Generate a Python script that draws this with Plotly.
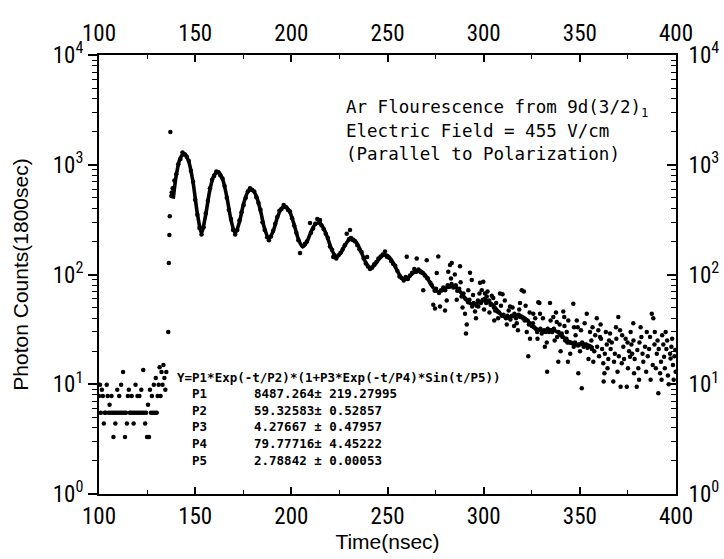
import plotly.graph_objects as go

# ---------------- data ----------------
# pre-signal background counts (t in ns)
bg_time = [100.0, 100.5, 101.0, 101.5, 102.0, 102.5, 103.0, 103.5, 104.0, 104.5,
           105.0, 105.5, 106.0, 106.5, 107.0, 107.5, 108.0, 108.5, 109.0, 109.5,
           110.0, 110.5, 111.0, 111.5, 112.0, 112.5, 113.0, 113.5, 114.0, 114.5,
           115.0, 115.5, 116.0, 116.5, 117.0, 117.5, 118.0, 118.5, 119.0, 119.5,
           120.0, 120.5, 121.0, 121.5, 122.0, 122.5, 123.0, 123.5, 124.0, 124.5,
           125.0, 125.5, 126.0, 126.5, 127.0, 127.5, 128.0, 128.5, 129.0, 129.5,
           130.0, 130.5, 131.0, 131.5, 132.0, 132.5, 133.0, 133.5, 134.0, 134.5,
           135.0]
bg_counts = [7.8, 9.9, 5.5, 8.9, 7.8, 4.4, 5.5, 5.5, 9.9, 7.8,
             5.5, 6.5, 5.5, 7.8, 5.5, 3.3, 5.5, 4.4, 5.5, 8.9,
             5.5, 7.8, 5.5, 9.9, 5.5, 12.9, 5.5, 3.3, 5.5, 4.4,
             7.8, 8.9, 5.5, 5.5, 7.8, 5.5, 4.4, 5.5, 9.9, 5.5,
             7.8, 5.5, 7.8, 5.5, 8.9, 5.5, 13.5, 5.5, 4.4, 5.5,
             3.3, 6.5, 3.3, 8.9, 5.5, 7.8, 5.5, 9.9, 5.5, 11.4,
             5.5, 7.8, 9.9, 14.3, 7.8, 12.9, 9.9, 15.0, 11.4, 8.9,
             12.9]

# signal counts after the excitation pulse
sig_time = [136.0, 136.3, 136.6, 136.8, 137.1, 137.6, 137.8, 138.3, 139.2, 140.16,
            141.2, 142.35, 143.4, 144.54, 145.6, 146.73, 147.8, 148.92, 150.0, 151.11,
            152.2, 153.3, 154.4, 155.49, 156.6, 157.68, 158.8, 159.87, 161.0, 162.06,
            163.1, 164.25, 165.3, 166.44, 167.5, 168.63, 169.7, 170.82, 171.9, 173.01,
            174.1, 175.2, 176.3, 177.39, 178.5, 179.58, 180.7, 181.77, 182.9, 183.96,
            185.0, 186.15, 187.4, 188.34, 189.4, 190.53, 191.6, 192.72, 193.8, 194.91,
            196.0, 197.1, 198.3, 199.29, 200.4, 201.48, 202.6, 203.67, 204.5, 205.86,
            207.0, 208.05, 209.7, 210.24, 211.3, 212.43, 213.5, 214.62, 214.9, 215.7,
            216.81, 217.9, 219.0, 220.1, 221.19, 221.8, 222.3, 223.38, 224.5, 225.57,
            226.7, 227.76, 228.8, 229.95, 230.5, 231.0, 232.14, 233.2, 234.33, 235.4,
            236.52, 237.6, 238.71, 239.4, 239.8, 240.9, 242.0, 243.09, 244.2, 245.28,
            246.4, 247.47, 248.7, 249.66, 250.8, 251.85, 252.9, 254.04, 255.1, 256.23,
            257.3, 258.42, 259.5, 260.0, 260.61, 261.7, 262.8, 263.9, 264.99, 265.2,
            266.1, 267.18, 268.3, 268.6, 269.37, 270.4, 270.5, 271.0, 272.3, 273.0,
            273.8, 274.5, 274.7, 275.2, 275.6, 276.4, 276.8, 277.3, 277.8, 279.0,
            279.9, 280.0, 280.8, 281.3, 281.6, 282.0, 282.5, 283.3, 283.4, 284.2,
            285.5, 286.0, 286.3, 287.3, 287.7, 288.5, 289.5, 290.3, 290.5, 290.8,
            291.2, 291.9, 292.6, 292.9, 293.8, 294.0, 294.8, 295.5, 296.3, 297.0,
            297.2, 298.1, 298.6, 299.0, 299.5, 299.8, 300.6, 300.7, 301.3, 301.6,
            302.8, 303.6, 305.0, 305.3, 305.5, 306.0, 307.1, 308.0, 308.5, 309.4,
            309.8, 310.3, 311.6, 312.4, 313.7, 313.9, 314.6, 316.0, 316.8, 317.2,
            317.8, 318.2, 318.9, 319.0, 319.8, 320.5, 320.9, 321.3, 322.4, 322.8,
            323.2, 323.5, 324.1, 325.0, 325.6, 325.8, 326.2, 327.0, 327.8, 328.4,
            329.0, 329.3, 329.5, 330.2, 331.4, 332.2, 332.8, 333.0, 333.3, 334.0,
            334.5, 335.4, 335.6, 336.2, 336.5, 338.0, 338.2, 338.8, 338.9, 340.2,
            340.6, 341.0, 341.4, 341.9, 342.4, 343.0, 343.2, 343.5, 343.8, 344.5,
            345.3, 346.6, 346.8, 347.0, 347.5, 348.4, 348.9, 349.0, 349.2, 349.8,
            350.1, 351.0, 351.2, 352.0, 353.2, 353.6, 354.0, 355.3, 355.5, 356.0,
            356.3, 357.0, 357.5, 358.8, 359.0, 359.6, 360.0, 360.5, 361.0, 362.2,
            362.4, 362.8, 363.0, 364.0, 364.8, 365.7, 366.0, 366.6, 367.4, 367.8,
            368.2, 369.0, 370.0, 370.3, 370.9, 371.2, 371.8, 372.6, 373.0, 373.8,
            374.4, 375.0, 375.6, 376.1, 376.4, 376.8, 377.8, 377.9, 378.2, 378.5,
            379.6, 379.9, 380.4, 381.0, 381.6, 382.6, 383.0, 383.9, 384.5, 385.3,
            386.0, 386.5, 387.4, 387.9, 388.2, 388.8, 389.5, 390.0, 390.8, 391.0,
            391.7, 392.2, 392.8, 393.4, 393.8, 394.2, 395.0, 395.8, 396.9, 397.2,
            397.6, 398.4, 399.2, 399.6, 399.8,
            302.0, 303.0, 304.2, 306.5, 307.5, 309.0, 311.0, 312.0, 313.0, 315.0,
            315.8, 318.5, 321.8, 323.9, 326.8, 328.0, 330.8, 331.8, 334.8, 336.9,
            337.6, 339.5, 340.0, 342.0, 344.0, 345.0, 347.8, 350.6, 352.5, 354.5,
            356.6, 358.0, 360.8, 361.6, 363.5, 364.4, 365.2, 368.8, 369.6, 372.0,
            374.8, 377.2, 380.8, 382.0, 384.8, 386.8, 389.0, 390.4, 392.5, 394.6,
            395.4, 396.2, 398.0, 398.8, 283.0, 285.0, 288.0, 289.0, 292.0, 294.5,
            296.0, 297.8, 300.2]
sig_counts = [30, 127, 229, 340, 1990, 520, 560, 610, 720, 820,
              1010, 1130, 1290, 1240, 1180, 1080, 880, 700, 480, 350,
              265, 232, 270, 360, 470, 610, 730, 790, 870, 850,
              800, 750, 640, 500, 390, 320, 255, 232, 255, 310,
              370, 430, 500, 575, 610, 590, 570, 505, 450, 390,
              300, 255, 219, 205, 222, 250, 290, 335, 380, 395,
              430, 410, 387, 375, 325, 280, 240, 205, 157, 182,
              190, 200, 295, 240, 262, 290, 320, 300, 314, 280,
              258, 235, 215, 180, 168, 144, 150, 140, 150, 158,
              170, 185, 235, 210, 254, 215, 205, 200, 185, 170,
              160, 140, 126, 144, 118, 112, 115, 124, 130, 140,
              146, 152, 162, 145, 142, 133, 125, 120, 108, 96,
              93, 88, 95, 145, 91, 98, 104, 112, 106, 140,
              111, 105, 103, 72, 98, 135, 93, 92, 84, 80,
              53, 71, 49, 74, 103, 146, 68, 51, 72, 76,
              47, 72, 58, 80, 106, 77, 122, 82, 127, 76,
              80, 59, 71, 74, 119, 63, 67, 44, 60, 29,
              35, 56, 59, 104, 89, 51, 55, 46, 52, 58,
              51, 84, 55, 72, 59, 86, 60, 67, 55, 63,
              58, 53, 61, 50, 38, 47, 46, 45, 67, 42,
              66, 43, 40, 42, 51, 39, 42, 44, 40, 36,
              31, 43, 55, 41, 72, 40, 70, 38, 30, 38,
              18, 35, 26, 34, 36, 44, 33, 32, 30, 56,
              55, 44, 32, 29, 31, 30, 24, 13, 32, 30,
              55, 31, 30, 41, 32, 37, 27, 16, 30, 28,
              29, 27, 46, 41, 25, 26, 30, 24, 16, 24,
              24, 54, 22, 33, 24, 38, 33, 22.5, 12.6, 23,
              20, 9.2, 24, 22, 23, 44, 21.5, 30, 22, 25,
              21, 16, 20, 40, 22, 31, 18, 27, 26, 15.5,
              10.6, 12.6, 19, 23, 17, 29, 21, 24, 10.6, 16,
              19, 26, 41, 18, 31, 9.5, 15.5, 22, 17, 26,
              9.5, 14, 20, 17.8, 30, 23, 36, 25, 12.6, 17,
              9.5, 20.5, 14, 24, 33, 19, 16, 22, 13, 18,
              21, 27, 44, 15, 40, 23, 14, 19, 8.3, 21,
              12.6, 16, 28, 23, 17.8, 14, 21, 12, 19, 17.2,
              22, 15, 18, 20.5, 13,
              70, 45, 64, 55, 40, 52, 58, 35, 47, 50,
              34, 48, 52, 45, 40, 26, 40, 22, 38, 25,
              45, 35, 20, 34, 38, 19, 28, 31, 36, 17,
              33, 28, 35, 21, 30, 14, 25, 33, 13, 28,
              24, 19, 11, 27, 30, 11, 30, 25, 11, 30,
              25, 10, 26, 11, 92, 100, 85, 50, 72, 65,
              40, 67, 48]

# fitted curve Y=P1*Exp(-t/P2)*(1+P3*Exp(-t/P4)*Sin(t/P5))
fit_time = [138.6, 140.16, 142.35, 144.54, 146.73, 148.92, 151.11, 153.30, 155.49, 157.68,
            159.87, 162.06, 164.25, 166.44, 168.63, 170.82, 173.01, 175.20, 177.39, 179.58,
            181.77, 183.96, 186.15, 188.34, 190.53, 192.72, 194.91, 197.10, 199.29, 201.48,
            203.67, 205.86, 208.05, 210.24, 212.43, 214.62, 216.81, 219.00, 221.19, 223.38,
            225.57, 227.76, 229.95, 232.14, 234.33, 236.52, 238.71, 240.90, 243.09, 245.28,
            247.47, 249.66, 251.85, 254.04, 256.23, 258.42, 260.61, 262.80, 264.99, 267.18,
            269.37, 271.56, 273.75, 275.94, 278.13, 280.32, 282.51, 284.70, 286.89, 289.08,
            291.27, 293.46, 295.65, 297.84, 300.03, 302.22, 304.41, 306.60, 308.79, 310.98,
            313.17, 315.36, 317.55, 319.74, 321.93, 324.12, 326.31, 328.50, 330.69, 332.88,
            335.07, 337.26, 339.45, 341.64, 343.83, 346.02, 348.21, 350.40, 352.59, 354.78,
            356.97]
fit_counts = [490, 799.5, 1161.9, 1261.5, 1059.7, 689.7, 362.3, 239.5, 351.4, 595.1,
              807.5, 862.8, 738.3, 513.4, 314.0, 237.2, 300.6, 442.9, 566.7, 596.7,
              519.4, 382.1, 260.2, 211.7, 247.1, 329.7, 401.3, 416.9, 368.5, 284.4,
              209.5, 178.6, 197.8, 245.4, 286.4, 294.1, 263.5, 211.7, 165.4, 145.4,
              155.6, 182.7, 205.9, 209.2, 189.7, 157.6, 128.8, 115.8, 120.8, 136.0,
              148.9, 149.9, 137.4, 117.3, 99.3, 90.6, 92.9, 101.2, 108.1, 108.1,
              100.0, 87.3, 75.9, 70.2, 70.9, 75.3, 78.6, 78.4, 72.9, 65.0,
              58.0, 53.9, 53.9, 56.1, 57.7, 57.1, 53.5, 48.4, 43.7, 41.0,
              40.7, 41.7, 42.5, 41.8, 39.4, 36.0, 32.9, 31.1, 30.7, 31.1,
              31.3, 30.6, 29.0, 26.8, 24.8, 23.5, 23.1, 23.1, 23.1, 22.6,
              21.4]

x_ticks = [100, 150, 200, 250, 300, 350, 400]
y_ticks = [1, 10, 100, 1000, 10000]
y_tick_text = ["10<sup>0</sup>", "10<sup>1</sup>", "10<sup>2</sup>", "10<sup>3</sup>", "10<sup>4</sup>"]
minor_y = [m * 10 ** k for k in range(4) for m in range(2, 10)]

fit_formula = "Y=P1*Exp(-t/P2)*(1+P3*Exp(-t/P4)*Sin(t/P5))"
param_names = ["P1", "P2", "P3", "P4", "P5"]
param_values = ["8487.264\u00b1 219.27995", "59.32583\u00b1 0.52857", "4.27667 \u00b1 0.47957",
                "79.77716\u00b1 4.45222", "2.78842 \u00b1 0.00053"]
info_lines = ["Ar Flourescence from 9d(3/2)<sub>1</sub>", "Electric Field = 455 V/cm",
              "(Parallel to Polarization)"]

# ---------------- figure ----------------
NARROW = "Liberation Sans Narrow, Arial Narrow, Roboto Condensed, Liberation Sans, sans-serif"
SANS = "Liberation Sans, Arial, sans-serif"
MONO = "DejaVu Sans Mono, Liberation Mono, monospace"
tickfont = dict(family=NARROW, size=23, color="black")

fig = go.Figure()
fig.add_trace(go.Scatter(x=bg_time, y=bg_counts, mode="markers",
                         marker=dict(color="black", size=4.5), hoverinfo="skip"))
fig.add_trace(go.Scatter(x=sig_time, y=sig_counts, mode="markers",
                         marker=dict(color="black", size=4.5), hoverinfo="skip"))
# the fit curve lives on the mirrored (top / right) axes, which share the same ranges
fig.add_trace(go.Scatter(x=fit_time, y=fit_counts, mode="lines", xaxis="x2", yaxis="y2",
                         line=dict(color="black", width=3.6, shape="spline", smoothing=0.8),
                         hoverinfo="skip"))

common_x = dict(range=[100, 400], tickmode="array", tickvals=x_ticks, ticks="inside",
                ticklen=7, tickwidth=1.5, tickcolor="black", showline=True, linecolor="black",
                linewidth=2, showgrid=False, zeroline=False, tickfont=tickfont, automargin=False,
                minor=dict(tickmode="array", tickvals=[125, 175, 225, 275, 325, 375],
                           ticks="inside", ticklen=4, tickwidth=1.2, tickcolor="black", showgrid=False))
common_y = dict(type="log", range=[0, 4], tickmode="array", tickvals=y_ticks, ticktext=y_tick_text,
                tickwidth=1.5, tickcolor="black", showline=True, linecolor="black", linewidth=2,
                showgrid=False, zeroline=False, tickfont=tickfont, automargin=False)

fig.update_layout(
    width=724, height=559,
    margin=dict(l=99, r=48, t=55, b=65),
    plot_bgcolor="white", paper_bgcolor="white", showlegend=False,
    xaxis=dict(**common_x, side="bottom",
               title=dict(text="Time(nsec)", font=dict(family=SANS, size=21, color="black"),
                          standoff=2)),
    xaxis2=dict(**common_x, side="top", overlaying="x", anchor="y", ticklabelstandoff=3),
    yaxis=dict(**common_y, side="left", ticks="outside", ticklen=9,
               minor=dict(tickmode="array", tickvals=minor_y, ticks="outside", ticklen=5,
                          tickwidth=1.2, tickcolor="black", showgrid=False),
               title=dict(text="Photon Counts(1800sec)",
                          font=dict(family=SANS, size=21, color="black"), standoff=18)),
    yaxis2=dict(**common_y, side="right", overlaying="y", anchor="x", ticks="inside", ticklen=9,
                ticklabelstandoff=6,
                minor=dict(tickmode="array", tickvals=minor_y, ticks="inside", ticklen=5,
                           tickwidth=1.2, tickcolor="black", showgrid=False)),
)

# descriptive text in the upper right
info_y = [0.879, 0.827, 0.775]
for txt, yy in zip(info_lines, info_y):
    fig.add_annotation(text=txt, xref="paper", yref="paper", x=0.425, y=yy,
                       xanchor="left", yanchor="middle", showarrow=False,
                       font=dict(family=MONO, size=17.5, color="black"))

# fit-result box
fig.add_annotation(text="<b>" + fit_formula + "</b>", xref="paper", yref="paper", x=0.131, y=0.266,
                   xanchor="left", yanchor="middle", showarrow=False,
                   font=dict(family=MONO, size=12.5, color="black"))
row_y = [0.230, 0.191, 0.153, 0.116, 0.077]
for name, val, yy in zip(param_names, param_values, row_y):
    fig.add_annotation(text="<b>" + name + "</b>", xref="paper", yref="paper", x=0.157, y=yy,
                       xanchor="left", yanchor="middle", showarrow=False,
                       font=dict(family=MONO, size=12.5, color="black"))
    fig.add_annotation(text="<b>" + val + "</b>", xref="paper", yref="paper", x=0.265, y=yy,
                       xanchor="left", yanchor="middle", showarrow=False,
                       font=dict(family=MONO, size=12.5, color="black"))

# remove the browser's default 8px page margin so the 724x559 figure fills the window exactly
fig.write_html("out.html", config={"displayModeBar": False},
               post_script="document.body.style.margin='0';document.body.style.overflow='hidden';")
